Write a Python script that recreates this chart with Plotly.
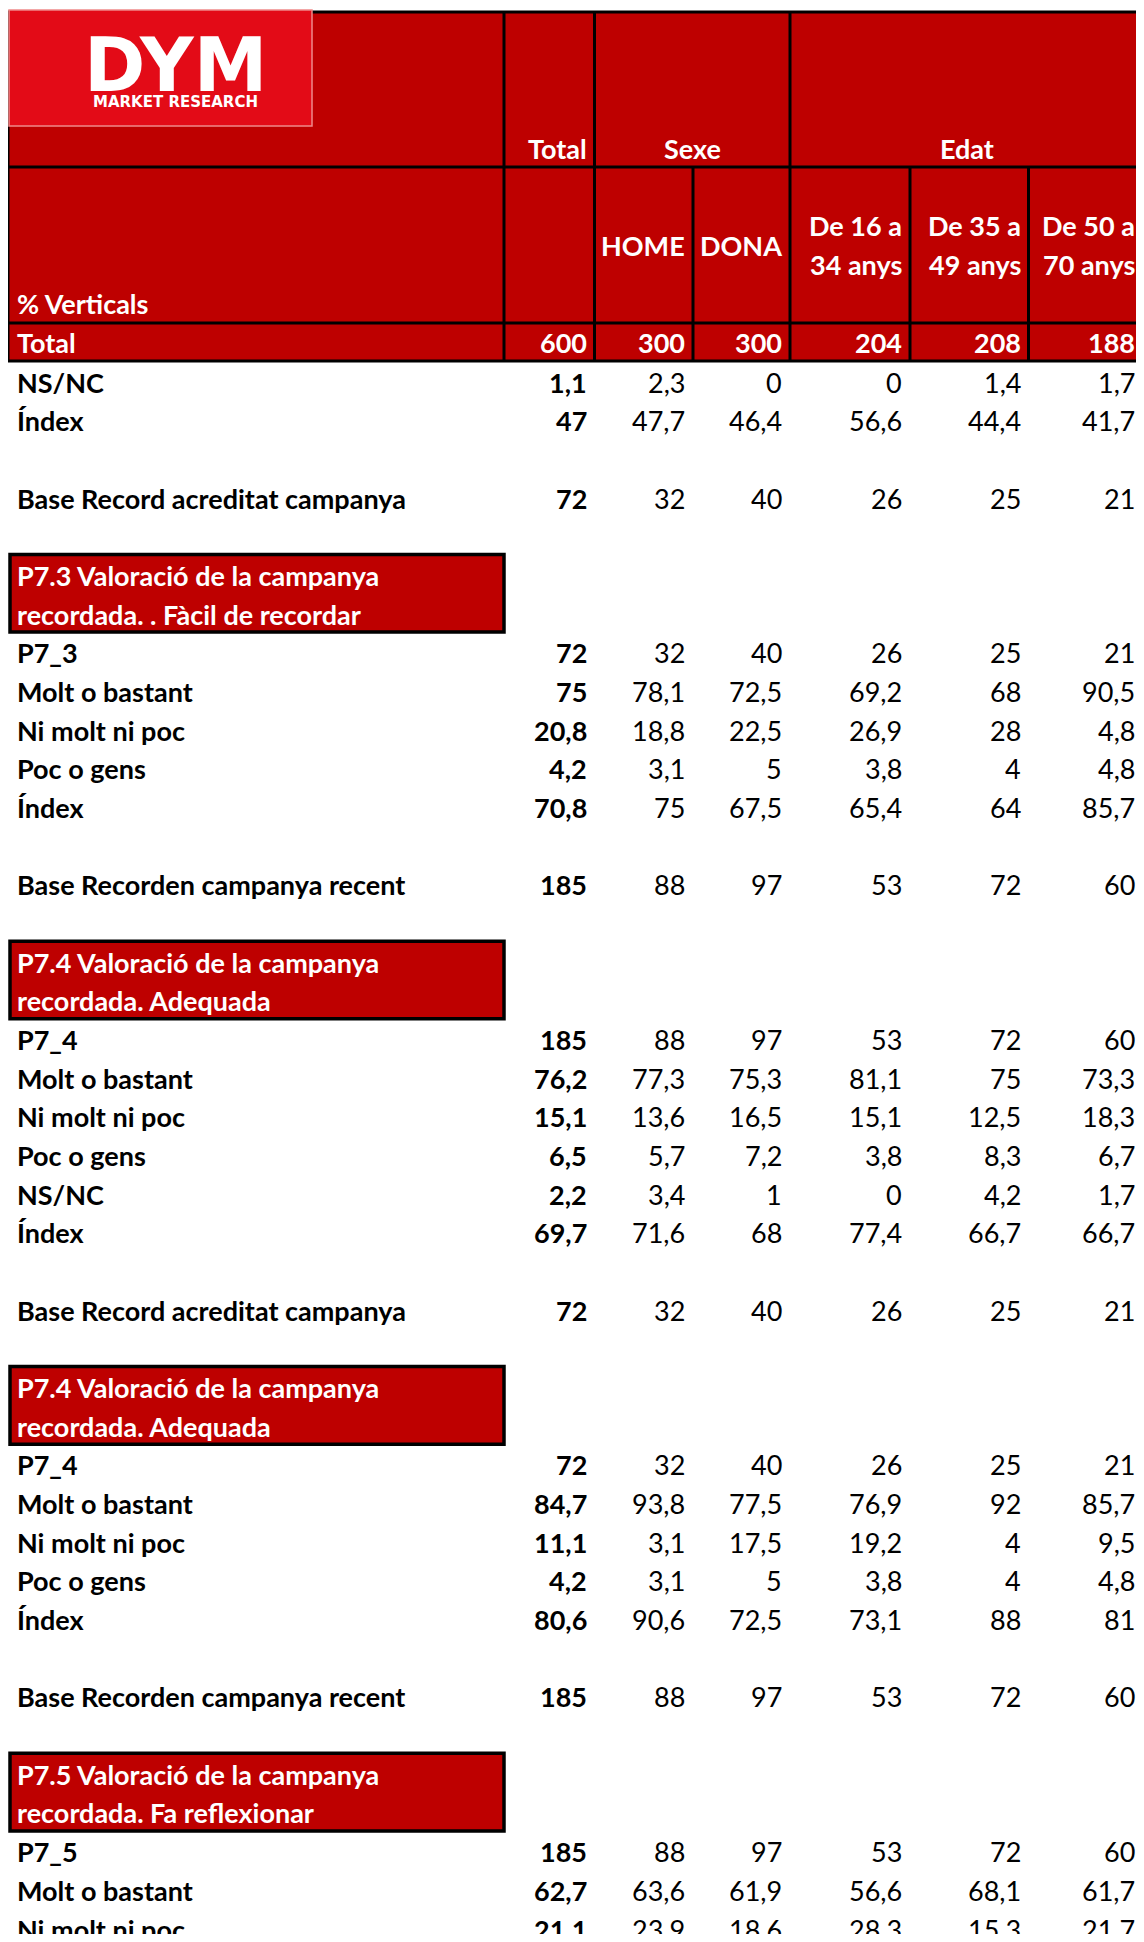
import plotly.graph_objects as go

# --- data -----------------------------------------------------------------
group_headers = ["Total", "Sexe", "Edat"]
sub_headers = ["HOME", "DONA", "De 16 a\n34 anys", "De 35 a\n49 anys", "De 50 a\n70 anys"]
total_counts = [600, 300, 300, 204, 208, 188]

row_labels = [
    "NS/NC", "Índex", "",
    "Base Record acreditat campanya", "",
    "P7.3 Valoració de la campanya", "recordada. . Fàcil de recordar",
    "P7_3", "Molt o bastant", "Ni molt ni poc", "Poc o gens", "Índex", "",
    "Base Recorden campanya recent", "",
    "P7.4 Valoració de la campanya", "recordada. Adequada",
    "P7_4", "Molt o bastant", "Ni molt ni poc", "Poc o gens", "NS/NC", "Índex", "",
    "Base Record acreditat campanya", "",
    "P7.4 Valoració de la campanya", "recordada. Adequada",
    "P7_4", "Molt o bastant", "Ni molt ni poc", "Poc o gens", "Índex", "",
    "Base Recorden campanya recent", "",
    "P7.5 Valoració de la campanya", "recordada. Fa reflexionar",
    "P7_5", "Molt o bastant", "Ni molt ni poc",
]

row_values = [
    [1.1, 2.3, 0, 0, 1.4, 1.7],
    [47, 47.7, 46.4, 56.6, 44.4, 41.7],
    None,
    [72, 32, 40, 26, 25, 21],
    None,
    None, None,
    [72, 32, 40, 26, 25, 21],
    [75, 78.1, 72.5, 69.2, 68, 90.5],
    [20.8, 18.8, 22.5, 26.9, 28, 4.8],
    [4.2, 3.1, 5, 3.8, 4, 4.8],
    [70.8, 75, 67.5, 65.4, 64, 85.7],
    None,
    [185, 88, 97, 53, 72, 60],
    None,
    None, None,
    [185, 88, 97, 53, 72, 60],
    [76.2, 77.3, 75.3, 81.1, 75, 73.3],
    [15.1, 13.6, 16.5, 15.1, 12.5, 18.3],
    [6.5, 5.7, 7.2, 3.8, 8.3, 6.7],
    [2.2, 3.4, 1, 0, 4.2, 1.7],
    [69.7, 71.6, 68, 77.4, 66.7, 66.7],
    None,
    [72, 32, 40, 26, 25, 21],
    None,
    None, None,
    [72, 32, 40, 26, 25, 21],
    [84.7, 93.8, 77.5, 76.9, 92, 85.7],
    [11.1, 3.1, 17.5, 19.2, 4, 9.5],
    [4.2, 3.1, 5, 3.8, 4, 4.8],
    [80.6, 90.6, 72.5, 73.1, 88, 81],
    None,
    [185, 88, 97, 53, 72, 60],
    None,
    None, None,
    [185, 88, 97, 53, 72, 60],
    [62.7, 63.6, 61.9, 56.6, 68.1, 61.7],
    [21.1, 23.9, 18.6, 28.3, 15.3, 21.7],
]

# --- layout constants ---------------------------------------------------
# the page body has an 8px margin, so the figure is shifted and the
# axis ranges start at 8 to keep page pixels == data units
PAGE_W, PAGE_H, BODY_M = 1144, 1942, 8
RED = "#BE0000"
LOGO_RED = "#E30B17"
FONT = "Lato"
FS = 27
col_edges = [8, 504, 594.5, 693, 790, 910, 1028.5, 1143]
y_top, y_mid, y_sub, y_bot = 12, 167, 323, 361
row0, pitch = 382, 38.675
PAD = 6


def fmt(v):
    if float(v).is_integer():
        return str(int(v))
    return f"{v:.1f}".replace(".", ",")


def text(x, y, s, anchor="left", bold=False, color="black", size=FS, family=FONT, **kw):
    opts = dict(x=x, y=y, text=s, showarrow=False, xanchor=anchor, yanchor="middle",
                font=dict(family=family, size=size, color=color,
                          weight="bold" if bold else "normal"))
    opts.update(kw)
    fig.add_annotation(**opts)


def hline(y, x0, x1, w=3):
    fig.add_shape(type="line", x0=x0, x1=x1, y0=y, y1=y, line=dict(color="black", width=w))


def vline(x, y0, y1, w=3):
    fig.add_shape(type="line", x0=x, x1=x, y0=y0, y1=y1, line=dict(color="black", width=w))


fig = go.Figure()

# header block
fig.add_shape(type="rect", x0=col_edges[0], x1=col_edges[-1], y0=y_top, y1=y_bot,
              fillcolor=RED, line_width=0, layer="below")
for y in (y_top, y_mid, y_sub, y_bot):
    hline(y, col_edges[0], col_edges[-1])
for i, x in enumerate(col_edges):
    full = i in (0, 1, 2, 4, 7)
    vline(x, y_top if full else y_mid, y_bot)

# logo
fig.add_shape(type="rect", x0=9, x1=312, y0=10, y1=126, fillcolor=LOGO_RED,
              line=dict(color="#F08A8A", width=1.5))
text(175, 20, "DYM", anchor="center", bold=True, color="white", size=74,
     family="DejaVu Sans", yanchor="top", height=69, valign="top")
text(175, 102, "MARKET RESEARCH", anchor="center", bold=True, color="white", size=15,
     family="DejaVu Sans")

# group headers (row 1)
ty1 = y_mid - 19
text(col_edges[2] - PAD, ty1, group_headers[0], anchor="right", bold=True, color="white")
text((col_edges[2] + col_edges[4]) / 2, ty1, group_headers[1], anchor="center", bold=True, color="white")
text((col_edges[4] + col_edges[7]) / 2, ty1, group_headers[2], anchor="center", bold=True, color="white")

# sub headers (row 2)
ty2 = (y_mid + y_sub) / 2
for j, lab in enumerate(sub_headers):
    xr = col_edges[j + 3] - PAD
    lines = lab.split("\n")
    for k, ln in enumerate(lines):
        off = (k - (len(lines) - 1) / 2) * 39
        text(xr, ty2 + off, ln, anchor="right", bold=True, color="white")
text(15, y_sub - 20, "% Verticals", bold=True, color="white")

# total row
ty3 = (y_sub + y_bot) / 2
text(15, ty3, "Total", bold=True, color="white")
for j, v in enumerate(total_counts):
    text(col_edges[j + 2] - PAD, ty3, fmt(v), anchor="right", bold=True, color="white")

# body
i = 0
while i < len(row_labels):
    yc = row0 + i * pitch
    lab, vals = row_labels[i], row_values[i]
    if vals is None and lab:
        # question box spanning two rows
        y0 = yc - 21
        y1 = row0 + (i + 1) * pitch + 18
        fig.add_shape(type="rect", x0=10, x1=504, y0=y0, y1=y1, fillcolor=RED,
                      line=dict(color="black", width=3.5))
        text(15, yc, lab, bold=True, color="white")
        text(15, yc + pitch, row_labels[i + 1], bold=True, color="white")
        i += 2
        continue
    if lab:
        text(15, yc, lab, bold=True)
    if vals is not None:
        for j, v in enumerate(vals):
            text(col_edges[j + 2] - PAD, yc, fmt(v), anchor="right", bold=(j == 0))
    i += 1

fig.update_layout(
    width=PAGE_W - BODY_M, height=PAGE_H - 2 * BODY_M,
    margin=dict(l=0, r=0, t=0, b=0),
    paper_bgcolor="white", plot_bgcolor="white",
    xaxis=dict(range=[BODY_M, PAGE_W], visible=False, fixedrange=True),
    yaxis=dict(range=[PAGE_H - BODY_M, BODY_M], visible=False, fixedrange=True),
    showlegend=False,
)

fig.write_html("out.html")
